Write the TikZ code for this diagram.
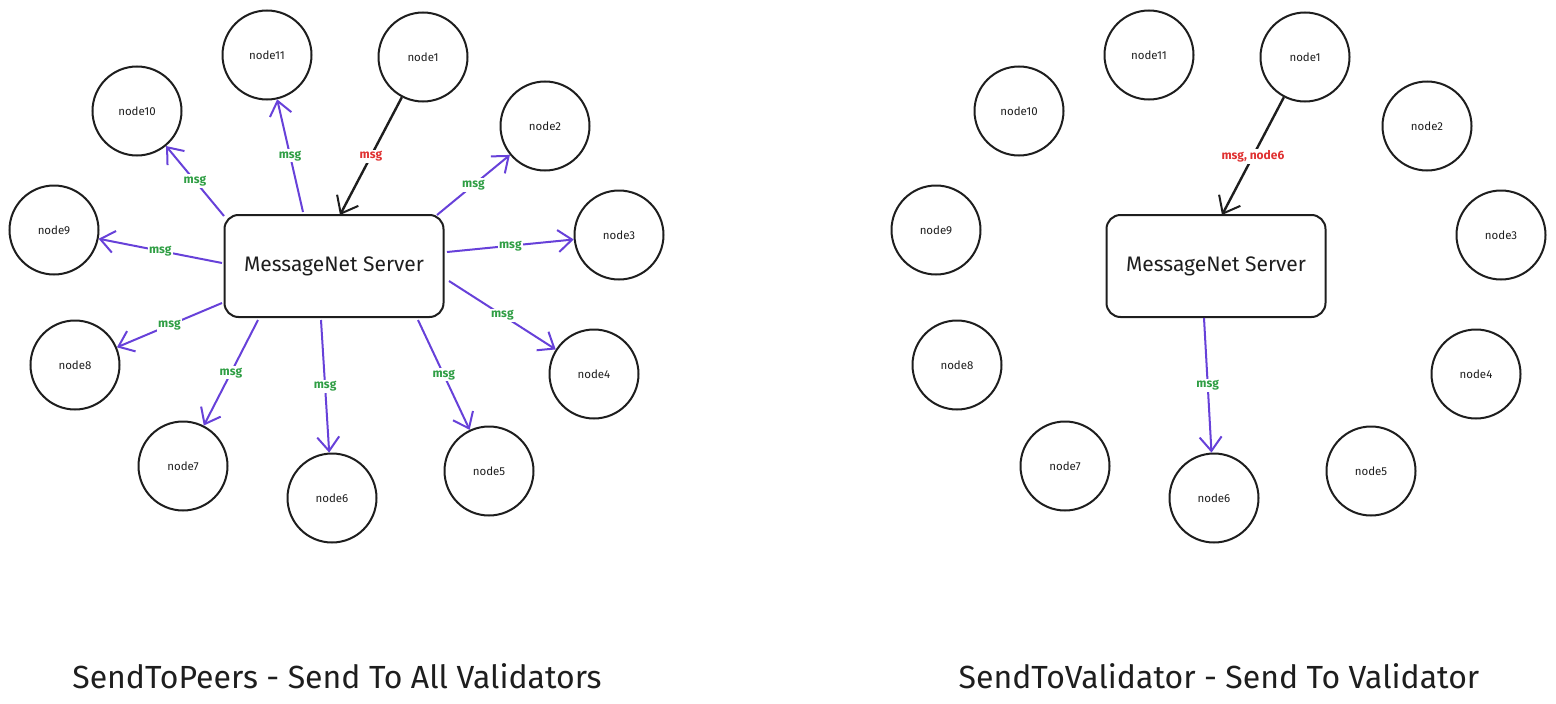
\documentclass[tikz,border=0pt]{standalone}
\usepackage{fontspec}
\setmainfont{Fira Sans}
\usetikzlibrary{arrows.meta,positioning}
\definecolor{ink}{HTML}{1E1E1E}
\definecolor{violet}{HTML}{6741D9}
\definecolor{msggreen}{HTML}{2F9E44}
\definecolor{msgred}{HTML}{E03131}
\tikzset{every picture/.style={line width=2pt}}
\tikzset{
  peer/.style={circle,draw=ink,minimum size=89pt,inner sep=0pt,font=\fontsize{11.5}{13}\selectfont,text=ink},
  server/.style={rectangle,rounded corners=14pt,draw=ink,minimum width=219pt,minimum height=102pt,font=\fontsize{21}{24}\selectfont,text=ink},
  msgarrow/.style={violet,-{Straight Barb[length=14pt,width=22pt,line width=2pt]}},
  reqarrow/.style={ink,line width=2.4pt,-{Straight Barb[length=15pt,width=24pt,line width=2pt]}},
  msglabel/.style={fill=white,inner sep=1.5pt,text=msggreen,font=\fontsize{12}{14}\selectfont\bfseries},
  reqlabel/.style={fill=white,inner sep=1.5pt,text=msgred,font=\fontsize{12}{14}\selectfont\bfseries},
  caption/.style={text=ink,font=\fontsize{32}{36}\selectfont}
}

\begin{document}
\begin{tikzpicture}[x=1pt,y=-1pt]
    \useasboundingbox (0,0) rectangle (1556,704);
    % SendToPeers
    \node[server] (srvL) at (334,266) {MessageNet Server};
    \foreach \name/\x/\y in {1/423/57,2/545/126,3/619/235,4/594/374,5/489/471,6/332/498,7/183/466,8/75/365,9/54/230,10/137/111,11/267/55}
      { \node[peer] (L\name) at (\x,\y) {node\name}; }
    \draw[reqarrow] (L1) -- ([shift={(6,-51)}]srvL.center) node[reqlabel,midway] {msg};
    \foreach \i/\dx/\dy in {2/103/-51,3/113/-14,4/115/15,5/84/54,6/-13/54,7/-76/54,8/-112/37,9/-112/-3,10/-110/-50,11/-31/-54}
      { \draw[msgarrow] ([shift={(\dx,\dy)}]srvL.center) -- (L\i) node[msglabel,midway] {msg}; }
    \node[caption] (capL) at (337,676) {SendToPeers - Send To All Validators};
    % SendToValidator
    \node[server] (srvR) at (1216,266) {MessageNet Server};
    \foreach \name/\x/\y in {1/423/57,2/545/126,3/619/235,4/594/374,5/489/471,6/332/498,7/183/466,8/75/365,9/54/230,10/137/111,11/267/55}
      { \node[peer] (R\name) at (\x+882,\y) {node\name}; }
    \draw[reqarrow] (R1) -- ([shift={(6,-51)}]srvR.center) node[reqlabel,midway] {msg, node6};
    \draw[msgarrow] ([shift={(-12,52)}]srvR.center) -- (R6) node[msglabel,midway] {msg};
    \node[caption] (capR) at (1219,676) {SendToValidator - Send To Validator};
\end{tikzpicture}
\end{document}
